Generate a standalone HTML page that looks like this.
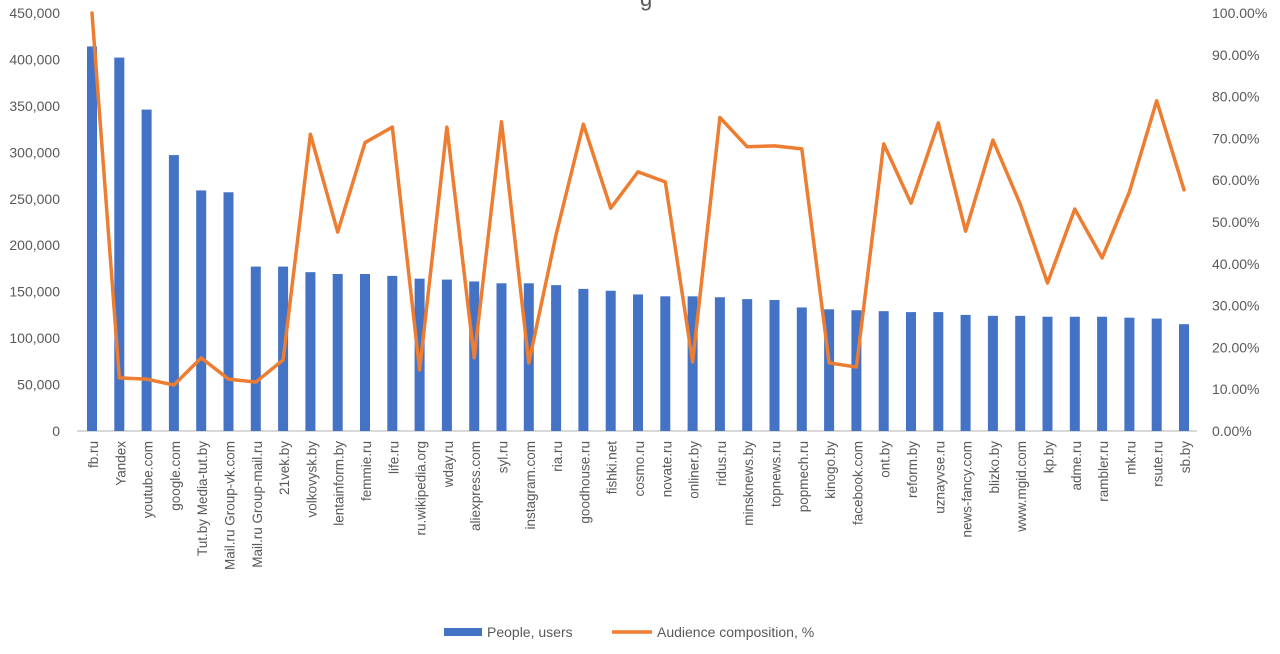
<!DOCTYPE html>
<html><head><meta charset="utf-8"><style>
body{margin:0;background:#fff;width:1280px;height:649px;overflow:hidden}
svg text{font-family:"Liberation Sans",Arial,sans-serif;fill:#595959}
</style></head><body>
<svg id="c" width="1280" height="649" xmlns="http://www.w3.org/2000/svg"></svg>
<script>
(function(){
const cats=["fb.ru","Yandex","youtube.com","google.com","Tut.by Media-tut.by","Mail.ru Group-vk.com","Mail.ru Group-mail.ru","21vek.by","volkovysk.by","lentainform.by","femmie.ru","life.ru","ru.wikipedia.org","wday.ru","aliexpress.com","syl.ru","instagram.com","ria.ru","goodhouse.ru","fishki.net","cosmo.ru","novate.ru","onliner.by","ridus.ru","minsknews.by","topnews.ru","popmech.ru","kinogo.by","facebook.com","ont.by","reform.by","uznayvse.ru","news-fancy.com","blizko.by","www.mgid.com","kp.by","adme.ru","rambler.ru","mk.ru","rsute.ru","sb.by"];
const bars=[414,402,346,297,259,257,177,177,171,169,169,167,164,163,161,159,159,157,153,151,147,145,145,144,142,141,133,131,130,129,128,128,125,124,124,123,123,123,122,121,115];
const pct=[100,12.7,12.4,11,17.5,12.4,11.7,17,71,47.6,69,72.7,14.6,72.7,17.5,74,16.3,47,73.4,53.3,62,59.6,16.5,75,68,68.2,67.5,16.3,15.3,68.7,54.5,73.7,47.8,69.6,54.3,35.4,53.1,41.4,57.2,79,57.7];
const y0=431,yt=13,H=y0-yt;
function fmt(n){return String(n).replace(/\B(?=(\d{3})+(?!\d))/g,",");}
let s='';
for(let i=0;i<=9;i++){
 const y=y0-H*i/9;
 s+='<text x="60" y="'+(y+5)+'" font-size="14" text-anchor="end">'+fmt(i*50000)+'</text>';
}
for(let i=0;i<=10;i++){
 const y=y0-H*i/10;
 s+='<text x="1212" y="'+(y+5)+'" font-size="14">'+(i*10).toFixed(2)+'%</text>';
}
s+='<line x1="77" y1="'+y0+'" x2="1197" y2="'+y0+'" stroke="#d9d9d9" stroke-width="2"/>';
const sp=1092/40;
let pts=[];
for(let i=0;i<cats.length;i++){
 const x=92+i*sp;
 const h=bars[i]*1000/450000*H;
 s+='<rect x="'+(x-5)+'" y="'+(y0-h)+'" width="10" height="'+h+'" fill="#4472c4"/>';
 s+='<text transform="translate('+(x+6)+',441) rotate(-90)" font-size="13.5" text-anchor="end">'+cats[i]+'</text>';
 pts.push(x+','+(y0-pct[i]/100*H));
}
s+='<polyline points="'+pts.join(' ')+'" fill="none" stroke="#ed7d31" stroke-width="3.5" stroke-linejoin="round" stroke-linecap="round"/>';
s+='<text x="640" y="6" font-size="22">g</text>';
s+='<rect x="444" y="628" width="38" height="8" fill="#4472c4"/><text x="487" y="637" font-size="14">People, users</text>';
s+='<line x1="612" y1="632" x2="652" y2="632" stroke="#ed7d31" stroke-width="3.5"/><text x="657" y="637" font-size="14">Audience composition, %</text>';
document.getElementById('c').innerHTML=s;
})();
</script>
</body></html>
